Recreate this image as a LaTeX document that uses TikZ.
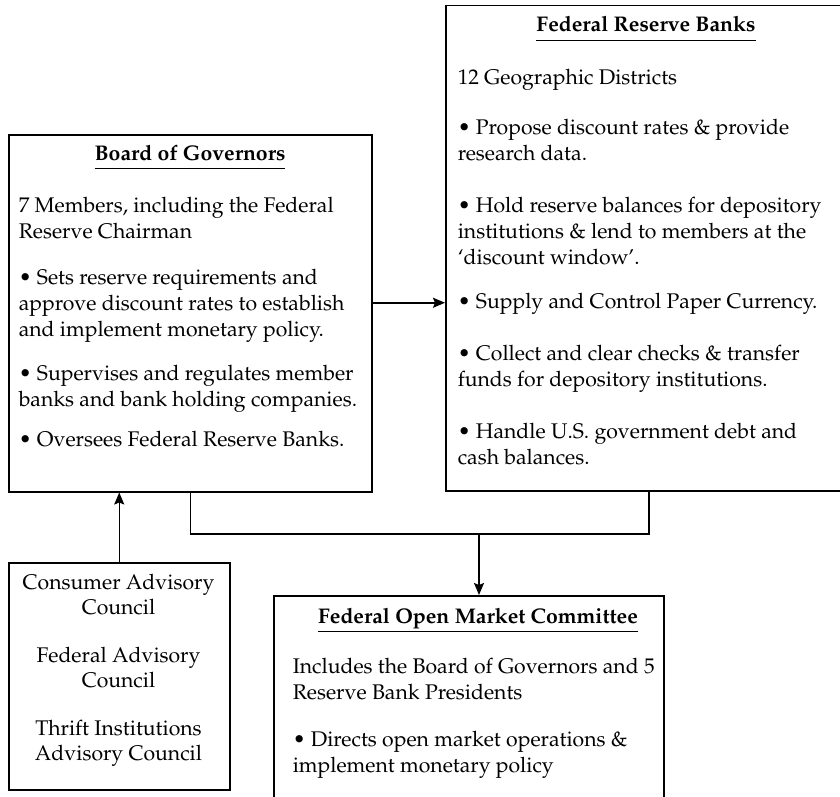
\documentclass[tikz,border=0pt]{standalone}
\usepackage[T1]{fontenc}
\usepackage{mathpazo}
\usepackage{tikz}
\usetikzlibrary{arrows, arrows.meta, positioning}

\begin{document}
\fontsize{10.6}{13}\selectfont
\begin{tikzpicture}[
    x = 0.5pt, y = -0.5pt, % one unit = one pixel of the layout
    > = {Stealth[length = 6pt, width = 5pt, inset = 1pt]}, % arrow head style
    line width = 0.75pt
]

\tikzstyle{panel}=[
    draw = black,
    rectangle,
    inner sep = 0pt,
    anchor = north west
]
\tikzstyle{heading}=[inner sep = 0pt, anchor = base, font = \bfseries]
\tikzstyle{body}=[inner sep = 0pt, anchor = north west, align = left]

\clip (0,0) rectangle (840,797);

% boxes
\node[panel, minimum width = 181.5pt, minimum height = 178.5pt] (Board of Governors) at (8,134) {};
\node[panel, minimum width = 203pt, minimum height = 242.5pt] (Federal Reserve Banks) at (445,5) {};
\node[panel, minimum width = 110.5pt, minimum height = 113.5pt] (Advisory Councils) at (8,562) {};
\node[panel, minimum width = 195pt, minimum height = 115pt] (Federal Open Market Committee) at (273,595) {};

% texts (body nodes hang from the top of their first line)
\node[heading] (Board of Governors title) at (190,160) {\underline{Board of Governors\vphantom{y}}};
\node[body] (Board of Governors text) at (18,196.5) {7 Members, including the Federal\\ Reserve Chairman\\[10pt]
    \textbullet{} Sets reserve requirements and\\ approve discount rates to establish\\ and implement monetary policy.\\[9pt]
    \textbullet{} Supervises and regulates member\\ banks and bank holding companies.\\[7pt]
    \textbullet{} Oversees Federal Reserve Banks.};

\node[heading] (Federal Reserve Banks title) at (646,32) {\underline{Federal Reserve Banks\vphantom{y}}};
\node[body] (Federal Reserve Banks text) at (457,68.5) {12 Geographic Districts\\[12pt]
    \textbullet{} Propose discount rates \& provide\\ research data.\\[13pt]
    \textbullet{} Hold reserve balances for depository\\ institutions \& lend to members at the\\ `discount window'.\\[9pt]
    \textbullet{} Supply and Control Paper Currency.\\[13pt]
    \textbullet{} Collect and clear checks \& transfer\\ funds for depository institutions.\\[13pt]
    \textbullet{} Handle U.S. government debt and\\ cash balances.};

\node[inner sep = 0pt, anchor = north, align = center, font = \fontsize{10.6}{12.25}\selectfont] (Advisory Councils text) at (118.5,573.5) {Consumer Advisory\\ Council\\[12pt]
    Federal Advisory\\ Council\\[12pt]
    Thrift Institutions\\ Advisory Council};

\node[heading] (Federal Open Market Committee title) at (478,623) {\underline{Federal Open Market Committee\vphantom{y}}};
\node[body] (Federal Open Market Committee text) at (292,657.5) {Includes the Board of Governors and 5\\ Reserve Bank Presidents\\[10.5pt]
    \textbullet{} Directs open market operations \&\\ implement monetary policy};

% connectors
\coordinate (join) at (479,534);
\draw[->] (Advisory Councils.north) -- (Advisory Councils.north |- Board of Governors.south);
\draw[->] ([yshift = 5.25pt]Board of Governors.east) -- ([yshift = 5.25pt]Board of Governors.east -| Federal Reserve Banks.west);
\draw (Board of Governors.south) |- (join) -| (Federal Reserve Banks.south);
\draw[->] (join) -- (join |- Federal Open Market Committee.north);

%\draw[red, dashed] (0,302) -- (840,302);
\end{tikzpicture}
\end{document}
